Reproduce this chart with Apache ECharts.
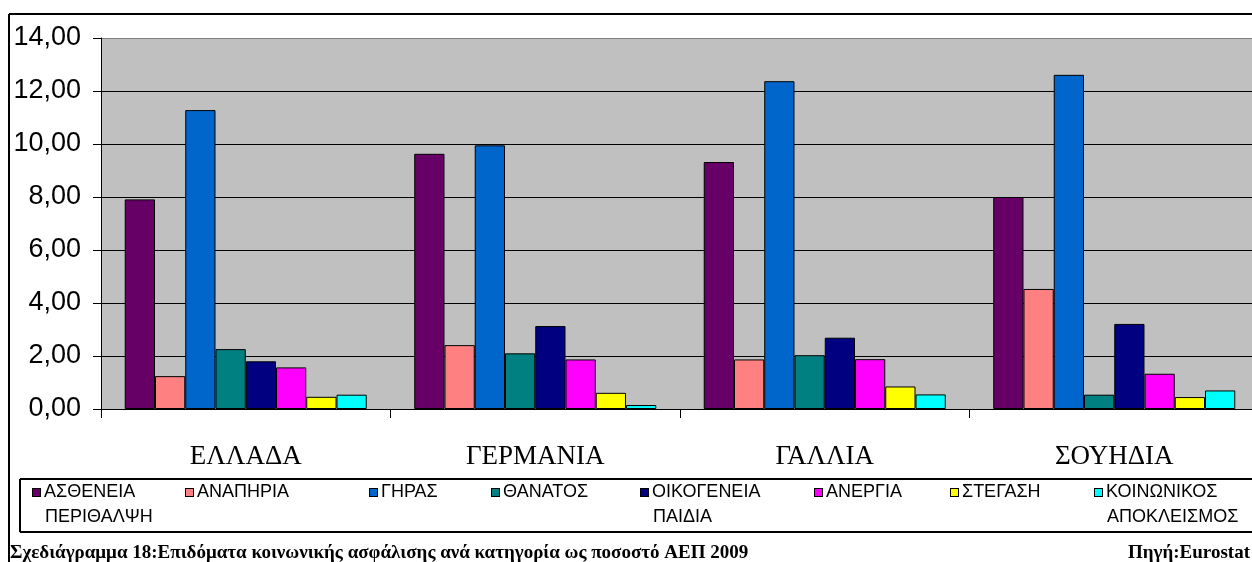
<!DOCTYPE html>
<html>
<head>
<meta charset="utf-8">
<script src="https://cdn.jsdelivr.net/npm/echarts@6/dist/echarts.min.js"></script>
<style>
  html, body { margin: 0; padding: 0; background: #fff; overflow: hidden; }
  #chart { width: 1252px; height: 562px; }
</style>
</head>
<body>
<div id="chart"></div>
<script>
// Social protection benefits by function, % of GDP, 2009
const categories = ['ΕΛΛΑΔΑ', 'ΓΕΡΜΑΝΙΑ', 'ΓΑΛΛΙΑ', 'ΣΟΥΗΔΙΑ'];
const seriesNames = ['ΑΣΘΕΝΕΙΑ ΠΕΡΙΘΑΛΨΗ', 'ΑΝΑΠΗΡΙΑ', 'ΓΗΡΑΣ', 'ΘΑΝΑΤΟΣ',
  'ΟΙΚΟΓΕΝΕΙΑ ΠΑΙΔΙΑ', 'ΑΝΕΡΓΙΑ', 'ΣΤΕΓΑΣΗ', 'ΚΟΙΝΩΝΙΚΟΣ ΑΠΟΚΛΕΙΣΜΟΣ'];
const sickness     = [7.91, 9.63, 9.32, 8.00];
const disability   = [1.24, 2.41, 1.87, 4.53];
const oldAge       = [11.28, 9.95, 12.37, 12.61];
const survivors    = [2.26, 2.10, 2.03, 0.54];
const family       = [1.80, 3.13, 2.69, 3.21];
const unemployment = [1.57, 1.87, 1.88, 1.33];
const housing      = [0.46, 0.61, 0.85, 0.45];
const exclusion    = [0.54, 0.15, 0.55, 0.70];
const seriesValues = [sickness, disability, oldAge, survivors, family, unemployment, housing, exclusion];
const colors = ['#660066', '#FF8080', '#0066CC', '#008080', '#000080', '#FF00FF', '#FFFF00', '#00FFFF'];
const yMin = 0, yMax = 14, yStep = 2;
const captionText = 'Σχεδιάγραμμα 18:Επιδόματα κοινωνικής ασφάλισης ανά κατηγορία ως ποσοστό ΑΕΠ 2009';
const sourceText = 'Πηγή:Eurostat';

const SANS = '"Liberation Sans", Arial, sans-serif';
const SERIF = '"Liberation Serif", "Times New Roman", serif';

const chart = echarts.init(document.getElementById('chart'), null, { renderer: 'canvas' });

const legendLeft = [28, 181, 365, 487, 636, 810, 946, 1090];

const legends = seriesNames.map((name, i) => ({
  data: [name],
  left: legendLeft[i],
  top: 480,
  padding: 0,
  icon: 'none',
  itemWidth: 0,
  itemHeight: 0,
  selectedMode: false,
  formatter: (n) => {
    const parts = n.split(' ');
    const key = 'm' + i;
    return '{' + key + '|}{t|' + parts[0] + '}\n{t2|' + (parts[1] || ' ') + '}';
  },
  textStyle: {
    fontFamily: SANS,
    fontSize: 18,
    color: '#000',
    lineHeight: 25,
    rich: {
      ['m' + i]: { width: 7, height: 7, backgroundColor: colors[i], borderColor: '#000', borderWidth: 1 },
      t: { fontFamily: SANS, fontSize: 18, color: '#000', lineHeight: 25, padding: [0, 0, 0, 4] },
      t2: { fontFamily: SANS, fontSize: 18, color: '#000', lineHeight: 25, padding: [0, 0, 0, 12] }
    }
  }
}));

// frame and legend box: only the edges that fall inside the page
const frameLines = [
  [[9, 14], [1252, 14]],
  [[9, 14], [9, 562]],
  [[20, 479], [1252, 479]],
  [[20, 532], [1252, 532]],
  [[20, 479], [20, 532]]
];

const option = {
  animation: false,
  backgroundColor: '#fff',
  grid: {
    left: 101, top: 38, width: 1158, bottom: 153,
    outerBoundsMode: 'none',
    containLabel: false,
    show: true, backgroundColor: '#C0C0C0', borderWidth: 0
  },
  legend: legends,
  xAxis: {
    type: 'category',
    data: categories,
    axisLine: { lineStyle: { color: '#000', width: 1 } },
    axisTick: { show: true, length: 9, lineStyle: { color: '#000', width: 1 } },
    axisLabel: { fontFamily: SERIF, fontSize: 27, color: '#000', margin: 34 },
    splitLine: { show: false }
  },
  yAxis: {
    type: 'value',
    min: yMin, max: yMax, interval: yStep,
    axisLine: { show: true, lineStyle: { color: '#000', width: 1 } },
    axisTick: { show: true, length: 8, lineStyle: { color: '#000', width: 1 } },
    axisLabel: {
      fontFamily: SANS, fontSize: 27, color: '#000', margin: 20,
      formatter: (v) => v.toFixed(2).replace('.', ',')
    },
    splitLine: {
      show: true,
      lineStyle: { color: ['#000', '#000', '#000', '#000', '#000', '#000', '#000', '#808080'], width: 1 }
    }
  },
  series: seriesNames.map((name, i) => ({
    name,
    type: 'bar',
    data: seriesValues[i],
    barGap: 0,
    barCategoryGap: '16.4%',
    itemStyle: { color: colors[i], borderColor: '#000', borderWidth: 1 }
  })),
  graphic: frameLines.map(([a, b]) => ({
    type: 'line', silent: true,
    shape: { x1: a[0], y1: a[1], x2: b[0], y2: b[1] },
    style: { stroke: '#000', lineWidth: 2 }
  })).concat([
    {
      type: 'text', left: 10, top: 544, silent: true,
      style: { text: captionText, font: 'bold 19px ' + SERIF, fill: '#000' }
    },
    {
      type: 'text', right: 2, top: 544, silent: true,
      style: { text: sourceText, font: 'bold 19px ' + SERIF, fill: '#000' }
    }
  ])
};

chart.setOption(option);
</script>
</body>
</html>
